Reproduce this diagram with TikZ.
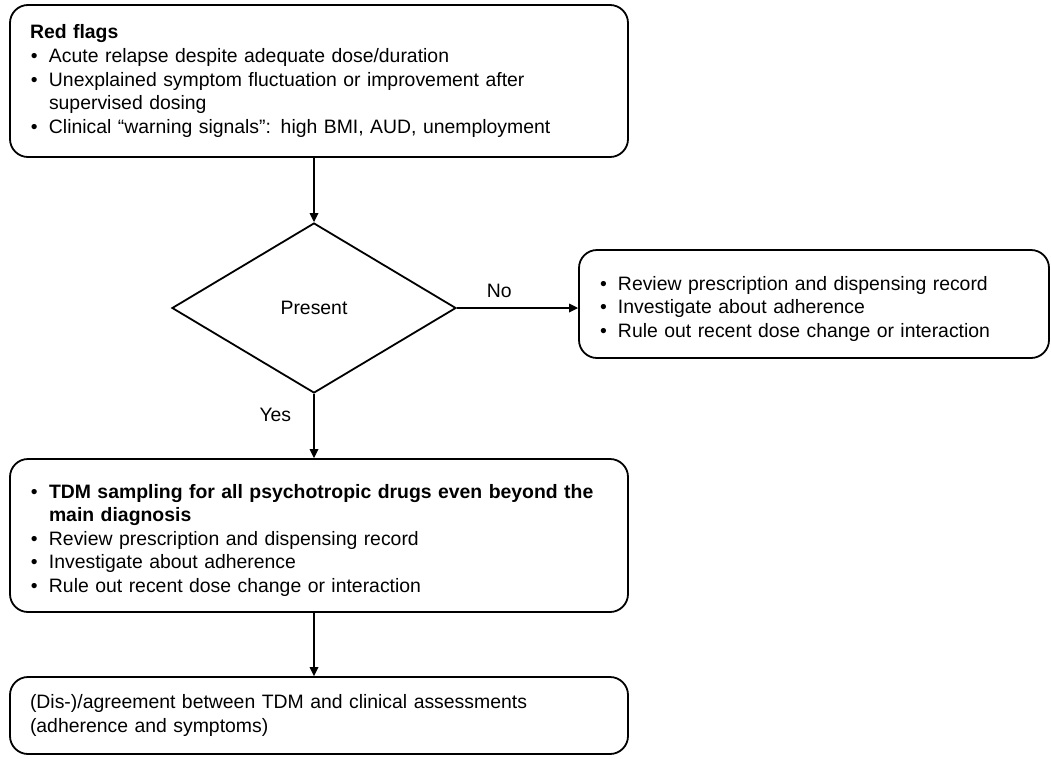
\documentclass[tikz,border=0pt]{standalone}
\usepackage{fontspec}
\setmainfont{Liberation Sans}
\usetikzlibrary{shapes.geometric,arrows.meta}
\newcommand{\bitem}[1]{\par\noindent\hangindent=19pt\hangafter=1\makebox[19pt][l]{\hspace{1pt}\textbullet}#1}
\begin{document}
\begin{tikzpicture}[x=1pt,y=-1pt,
  font=\fontsize{19.4pt}{23.6pt}\selectfont,
  box/.style={draw, line width=1.8pt, rounded corners=18pt, inner xsep=20pt, inner ysep=0pt, align=left},
  decision/.style={draw, diamond, line width=1.8pt, inner sep=0pt},
  conn/.style={line width=1.7pt, -{Triangle[length=9pt,width=8.5pt]}},
  lbl/.style={inner sep=0pt}]
\useasboundingbox (0,0) rectangle (1051,758);

\node[box, minimum width=618pt, minimum height=152pt, text width=578pt] (b1) at (319,81)
  {\textbf{Red flags}%
   \bitem{Acute relapse despite adequate dose/duration}%
   \bitem{Unexplained symptom fluctuation or improvement after\newline supervised dosing}%
   \bitem{Clinical “warning signals”: high BMI, AUD, unemployment}};

\node[decision, minimum width=284pt, minimum height=170pt] (d) at (314,308) {Present};

\node[box, minimum width=470pt, minimum height=108pt, text width=430pt] (b2) at (814,304)
  {\bitem{Review prescription and dispensing record}%
   \bitem{Investigate about adherence}%
   \bitem{Rule out recent dose change or interaction}};

\node[box, minimum width=618pt, minimum height=153pt, text width=578pt] (b3) at (319,535.5)
  {\bitem{\textbf{TDM sampling for all psychotropic drugs even beyond the\newline main diagnosis}}%
   \bitem{Review prescription and dispensing record}%
   \bitem{Investigate about adherence}%
   \bitem{Rule out recent dose change or interaction}};

\node[box, minimum width=618pt, minimum height=77pt, text width=578pt, inner xsep=16pt] (b4) at (319,715.5)
  {(Dis-)/agreement between TDM and clinical assessments\newline (adherence and symptoms)};

\draw[conn] (d.north |- b1.south) -- (d.north);
\draw[conn] (d.east) -- node[lbl, pos=0.35, above=9pt] (no) {No} (d.east -| b2.west);
\draw[conn] (d.south) -- node[lbl, pos=0.32, left=22pt] (yes) {Yes} (d.south |- b3.north);
\draw[conn] (d.south |- b3.south) -- (d.south |- b4.north);
\end{tikzpicture}
\end{document}
